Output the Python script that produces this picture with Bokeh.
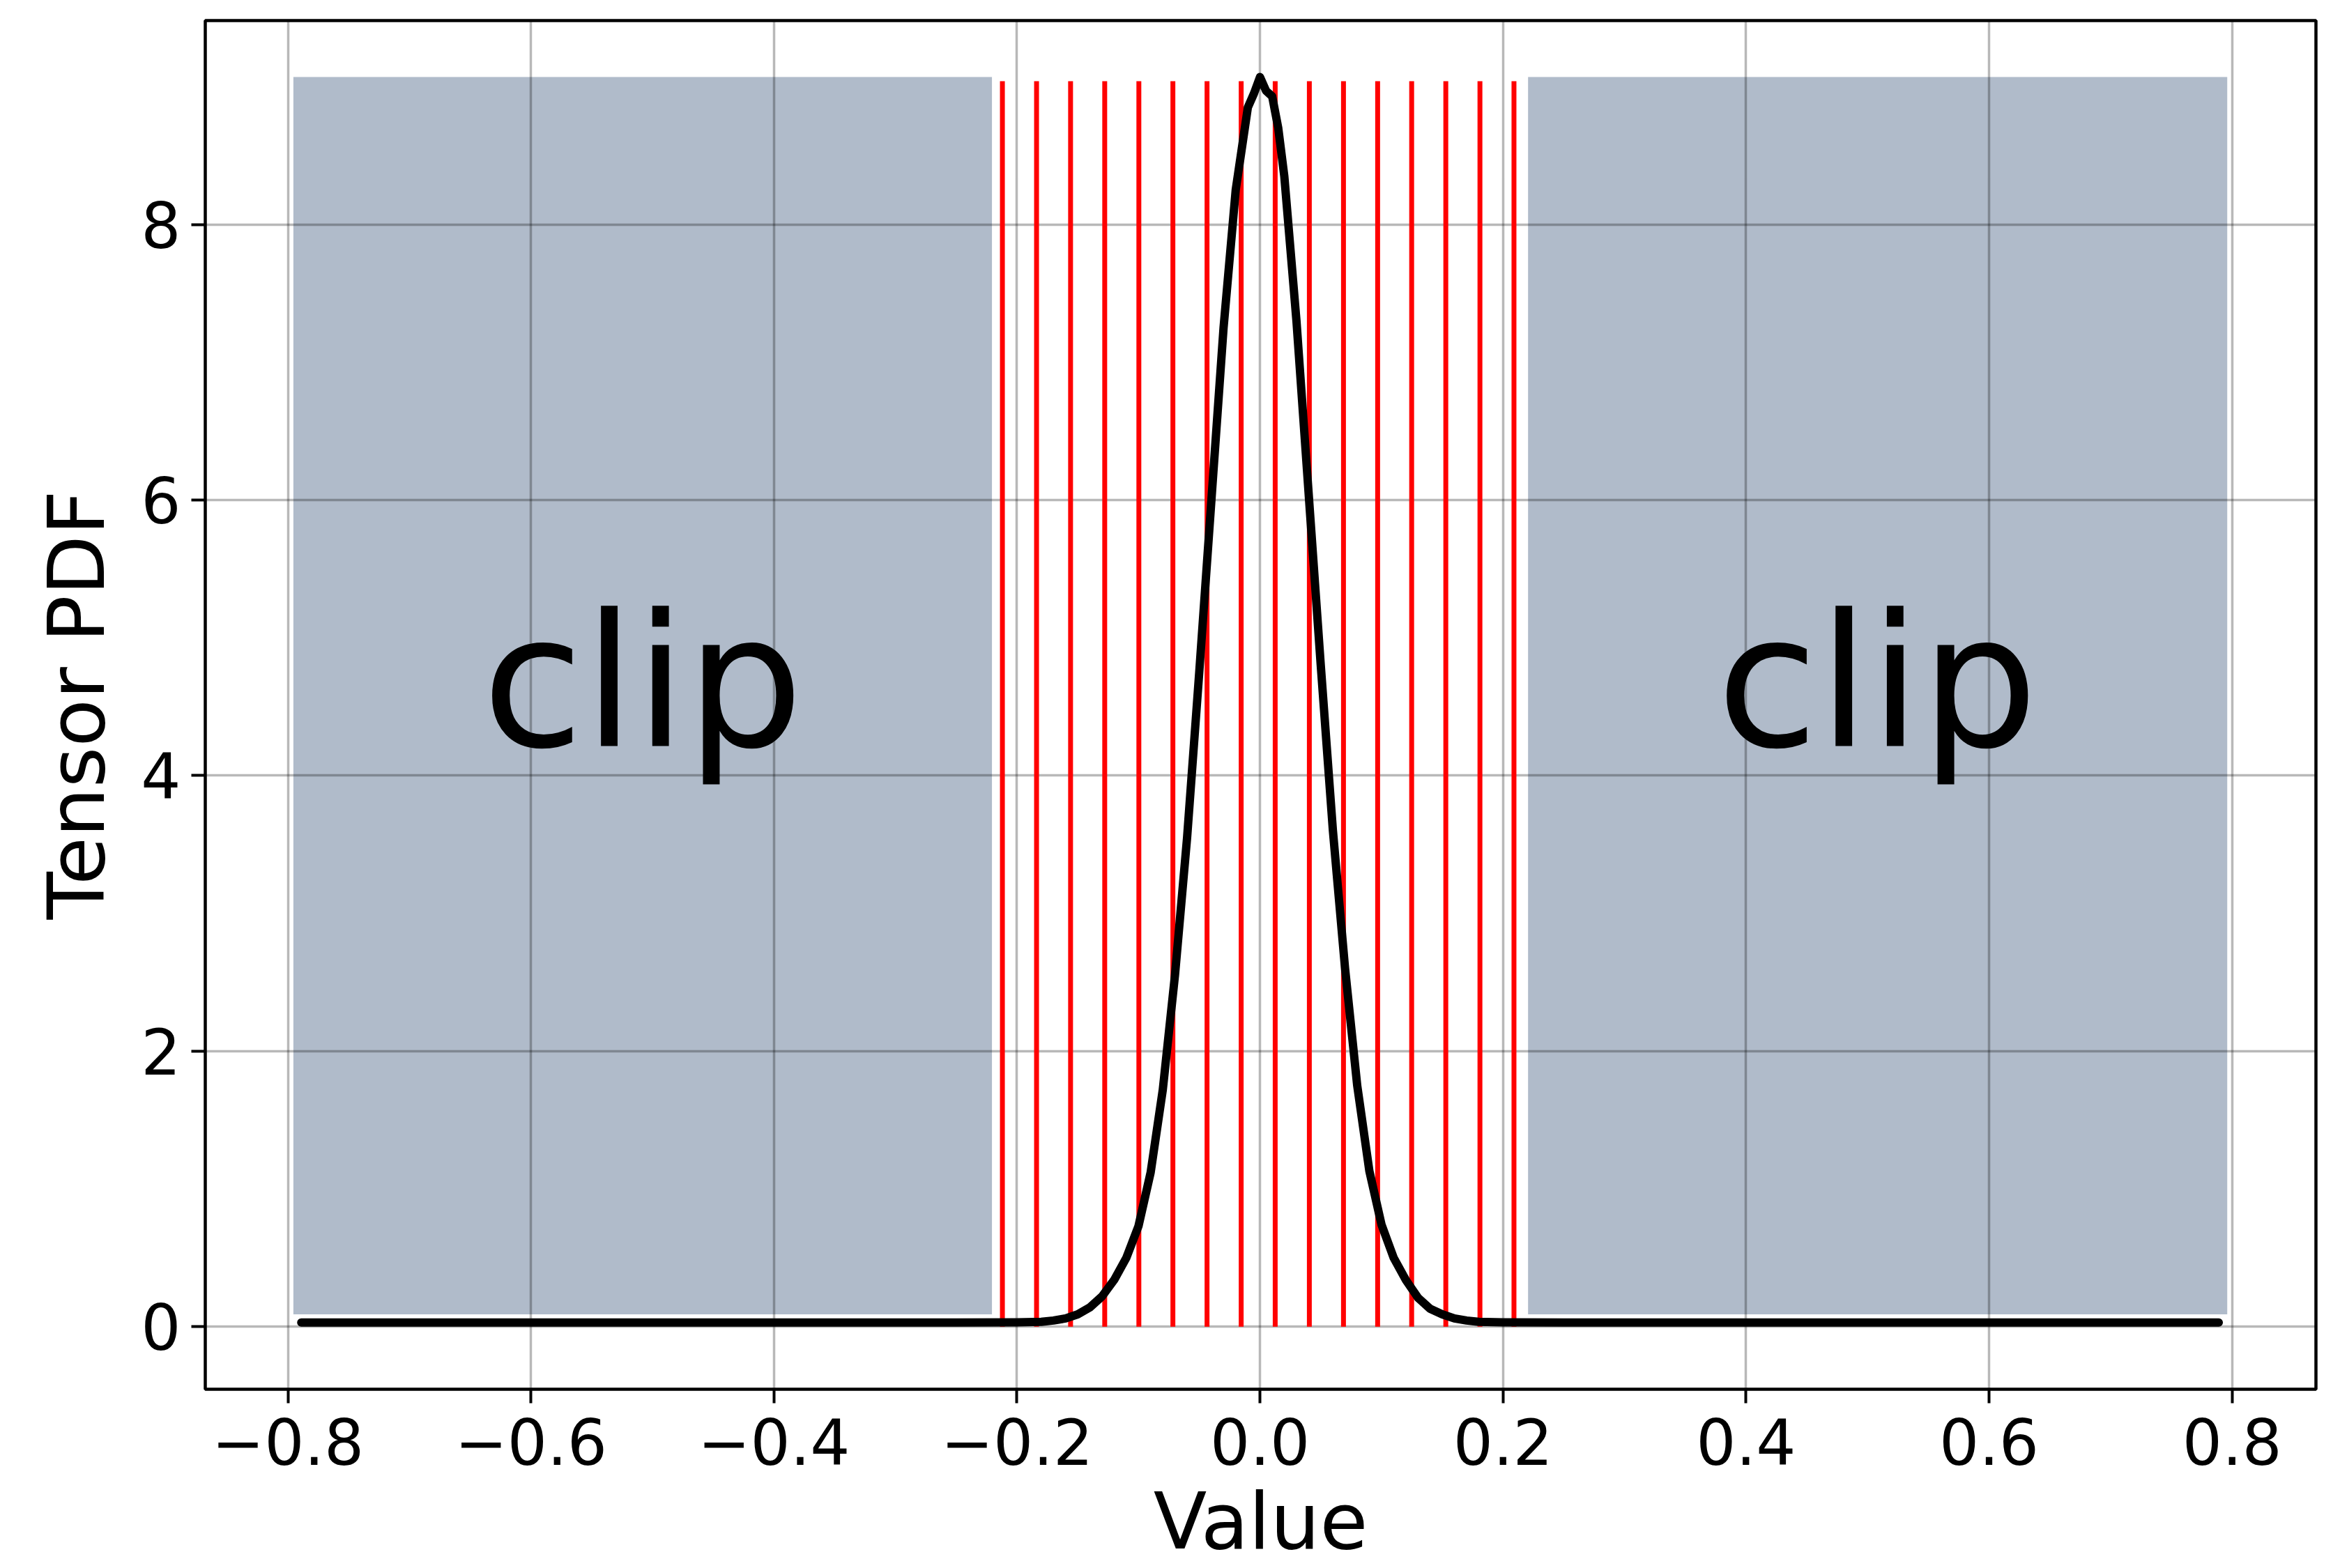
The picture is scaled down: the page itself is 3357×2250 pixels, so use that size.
from bokeh.plotting import figure
from bokeh.models import Range1d, FixedTicker
from bokeh.core.properties import value
from bokeh.embed import file_html
from bokeh.resources import INLINE

# ---- data ----
x_ticks = [-0.8, -0.6, -0.4, -0.2, 0.0, 0.2, 0.4, 0.6, 0.8]
x_tick_labels = ["\u22120.8", "\u22120.6", "\u22120.4", "\u22120.2", "0.0", "0.2", "0.4", "0.6", "0.8"]
y_ticks = [0, 2, 4, 6, 8]
y_tick_labels = ["0", "2", "4", "6", "8"]

# clipped regions (shaded boxes)
box_left = [-0.7955, 0.2206]
box_right = [-0.2206, 0.7960]
box_bottom = [0.09, 0.09]
box_top = [9.07, 9.07]

# quantization levels (red lines)
level_x = [-0.2120, -0.1839, -0.1559, -0.1278, -0.0997, -0.0717, -0.0436, -0.0155,
           0.0125, 0.0406, 0.0687, 0.0968, 0.1248, 0.1529, 0.1810, 0.2090]
level_bottom = 0.0
level_top = 9.04

# tensor PDF curve
curve_x = [-0.789, -0.40, -0.25, -0.20, -0.18, -0.17, -0.16, -0.15, -0.14, -0.13, -0.12,
           -0.11, -0.10, -0.09, -0.08, -0.07, -0.06, -0.05, -0.04, -0.03, -0.02, -0.01,
           -0.005, 0.0, 0.005, 0.01, 0.015, 0.02, 0.03, 0.04, 0.05, 0.06, 0.07, 0.08,
           0.09, 0.10, 0.11, 0.12, 0.13, 0.14, 0.15, 0.16, 0.17, 0.18, 0.20, 0.25, 0.40, 0.789]
curve_y = [0.03, 0.03, 0.03, 0.032, 0.035, 0.045, 0.06, 0.09, 0.14, 0.22, 0.34,
           0.50, 0.73, 1.12, 1.72, 2.55, 3.55, 4.75, 6.00, 7.25, 8.25, 8.85,
           8.95, 9.07, 8.97, 8.93, 8.70, 8.35, 7.30, 6.05, 4.80, 3.60, 2.60, 1.75,
           1.13, 0.74, 0.50, 0.34, 0.21, 0.13, 0.09, 0.06, 0.045, 0.035, 0.032, 0.03, 0.03, 0.03]

clip_x = [-0.508, 0.508]
clip_y = [4.68, 4.68]
clip_text = ["clip", "clip"]

FONT = "DejaVu Sans"

p = figure(width=3357, height=2250,
           x_range=Range1d(-0.868, 0.869), y_range=Range1d(-0.454, 9.48),
           output_backend="svg", toolbar_location=None,
           min_border_left=294, min_border_right=35, min_border_top=29, min_border_bottom=253)

p.background_fill_color = "white"
p.border_fill_color = "white"
p.outline_line_color = "black"
p.outline_line_width = 4.5

# shaded clip boxes (under the grid)
p.quad(left=box_left, right=box_right, bottom=box_bottom, top=box_top,
       fill_color="#B0BBCA", line_color=None, level="image")

# red level lines
p.segment(x0=level_x, y0=[level_bottom] * len(level_x), x1=level_x, y1=[level_top] * len(level_x),
          line_color="#FF0000", line_width=7)

# PDF curve
p.line(curve_x, curve_y, line_color="black", line_width=12, line_join="round", line_cap="round")

# clip texts
p.text(x=clip_x, y=clip_y, text=clip_text, text_font=value(FONT), text_font_size=value("265px"),
       text_align="center", text_baseline="alphabetic", text_color="black")

# axes
p.xaxis.ticker = FixedTicker(ticks=x_ticks)
p.yaxis.ticker = FixedTicker(ticks=y_ticks)
p.xaxis.major_label_overrides = {t: l for t, l in zip(x_ticks, x_tick_labels)}
p.yaxis.major_label_overrides = {t: l for t, l in zip(y_ticks, y_tick_labels)}
for ax in (p.xaxis[0], p.yaxis[0]):
    ax.axis_line_color = None
    ax.major_tick_line_color = "black"
    ax.major_tick_line_width = 4
    ax.major_tick_out = 20
    ax.major_tick_in = 0
    ax.minor_tick_line_color = None
    ax.major_label_text_font = FONT
    ax.major_label_text_font_size = "90px"
    ax.major_label_text_color = "black"
    ax.axis_label_text_font = FONT
    ax.axis_label_text_font_size = "112px"
    ax.axis_label_text_font_style = "normal"
    ax.axis_label_text_color = "black"
p.xaxis.major_label_standoff = 21
p.yaxis.major_label_standoff = 15
p.xaxis.axis_label = "Value"
p.yaxis.axis_label = "Tensor PDF"
p.xaxis.axis_label_standoff = 13
p.yaxis.axis_label_standoff = 24

# grid
p.xgrid.ticker = FixedTicker(ticks=x_ticks)
p.ygrid.ticker = FixedTicker(ticks=y_ticks)
for g in (p.xgrid[0], p.ygrid[0]):
    g.grid_line_color = "black"
    g.grid_line_alpha = 0.28
    g.grid_line_width = 3.5

open("out.html", "w").write(file_html(p, INLINE))
